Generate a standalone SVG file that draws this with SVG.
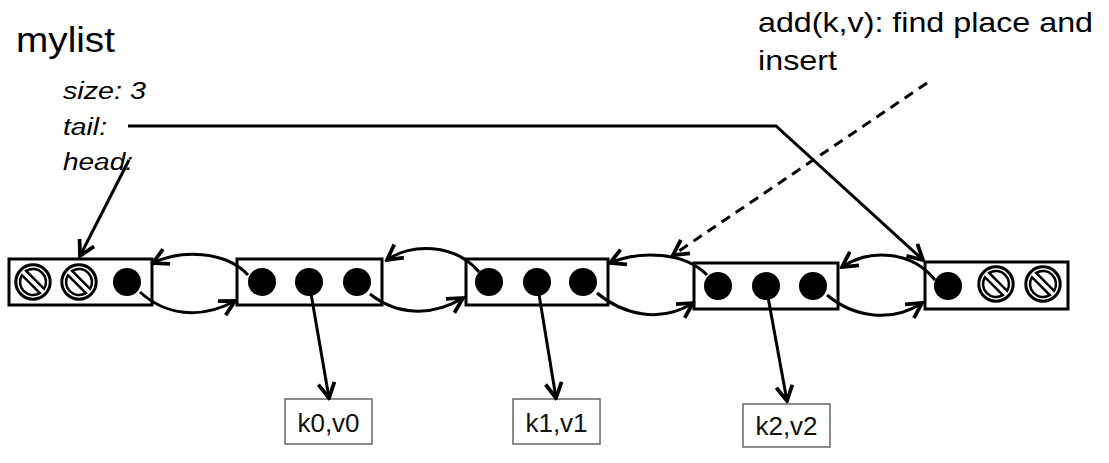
<svg xmlns="http://www.w3.org/2000/svg" width="1109" height="463" viewBox="0 0 1109 463">
<style>
.box{fill:#fff;stroke:#000;stroke-width:3}
.dot{fill:#000}
.val{fill:#fff;stroke:#666;stroke-width:1.5}
.valt{font-family:"Liberation Sans",Arial,sans-serif;font-size:26px;fill:#111;text-anchor:middle}
.lbl{font-family:"Liberation Sans",Arial,sans-serif;fill:#000}
.it{font-style:italic;font-size:23px}
.c{fill:none;stroke:#000;stroke-width:3}
.nil-o{fill:#fff;stroke:#000;stroke-width:3}
.nil-i{fill:#fff;stroke:#000;stroke-width:2.5}
</style>
<defs>
<marker id="ah" markerUnits="userSpaceOnUse" markerWidth="20" markerHeight="20" viewBox="-14 -8 16 16" refX="0" refY="0" orient="auto">
<path d="M-12,-6.5 L0,0 L-12,6.5" fill="none" stroke="#000" stroke-width="3"/>
</marker>
<g id="nil">
<circle class="nil-o" r="17.2"/>
<g transform="rotate(45)">
<path class="nil-i" d="M-12.65,-3 A13 13 0 0 1 12.65,-3 Z"/>
<path class="nil-i" d="M12.65,3 A13 13 0 0 1 -12.65,3 Z"/>
</g>
</g>
</defs>
<rect width="1109" height="463" fill="#fff"/>

<g id="labels" class="lbl">
<text x="16" y="52" font-size="35" textLength="99" lengthAdjust="spacingAndGlyphs">mylist</text>
<text class="it" x="63" y="99" textLength="83" lengthAdjust="spacingAndGlyphs">size: 3</text>
<text class="it" x="63" y="135" textLength="44" lengthAdjust="spacingAndGlyphs">tail:</text>
<text class="it" x="63" y="170" textLength="70" lengthAdjust="spacingAndGlyphs">head:</text>
<text x="758" y="32" font-size="28" textLength="335" lengthAdjust="spacingAndGlyphs">add(k,v): find place and</text>
<text x="758" y="70" font-size="28" textLength="79" lengthAdjust="spacingAndGlyphs">insert</text>
</g>

<g id="node0">
<rect class="box" x="9" y="259" width="143" height="46"/>
<use href="#nil" x="33" y="282"/>
<use href="#nil" x="79" y="282"/>
<circle class="dot" cx="127" cy="282" r="14"/>
</g>
<g id="node1">
<rect class="box" x="237" y="259" width="145" height="46"/>
<circle class="dot" cx="262" cy="282" r="14"/>
<circle class="dot" cx="309" cy="282" r="14"/>
<circle class="dot" cx="357" cy="282" r="14"/>
</g>
<g id="node2">
<rect class="box" x="466" y="259" width="142" height="46"/>
<circle class="dot" cx="489" cy="282" r="14"/>
<circle class="dot" cx="537" cy="282" r="14"/>
<circle class="dot" cx="583" cy="282" r="14"/>
</g>
<g id="node3">
<rect class="box" x="694" y="263" width="144" height="46"/>
<circle class="dot" cx="718" cy="286" r="14"/>
<circle class="dot" cx="766" cy="286" r="14"/>
<circle class="dot" cx="813" cy="286" r="14"/>
</g>
<g id="node4">
<rect class="box" x="925" y="262" width="143" height="47"/>
<circle class="dot" cx="948" cy="286" r="14"/>
<use href="#nil" x="996" y="284"/>
<use href="#nil" x="1043" y="284"/>
</g>

<g id="val0">
<rect class="val" x="285" y="399" width="87" height="45"/>
<text class="valt" x="328.5" y="432">k0,v0</text>
</g>
<g id="val1">
<rect class="val" x="513" y="399" width="87" height="45"/>
<text class="valt" x="556.5" y="432">k1,v1</text>
</g>
<g id="val2">
<rect class="val" x="743" y="404" width="87" height="43"/>
<text class="valt" x="786.5" y="435">k2,v2</text>
</g>

<g id="connectors">
<path class="c" marker-end="url(#ah)" d="M248,275 C225,250 180,250 153,263"/>
<path class="c" marker-end="url(#ah)" d="M140,292 C165,315 200,320 235,301"/>
<path class="c" marker-end="url(#ah)" d="M479,272 C455,243 410,243 387,260"/>
<path class="c" marker-end="url(#ah)" d="M370,294 C395,314 430,318 463,298"/>
<path class="c" marker-end="url(#ah)" d="M707,275 C685,252 640,250 610,263"/>
<path class="c" marker-end="url(#ah)" d="M597,293 C622,314 660,324 693,303"/>
<path class="c" marker-end="url(#ah)" d="M935,280 C912,251 870,248 842,267"/>
<path class="c" marker-end="url(#ah)" d="M827,295 C852,316 890,324 922,303"/>
<path class="c" marker-end="url(#ah)" d="M309,282 L329,398"/>
<path class="c" marker-end="url(#ah)" d="M537,282 L556,398"/>
<path class="c" marker-end="url(#ah)" d="M766,286 L787,401"/>
<path class="c" stroke-width="2.6" marker-end="url(#ah)" d="M128,126 L776,126 L923,260"/>
<path class="c" stroke-width="2.6" marker-end="url(#ah)" d="M129,160 L80,256"/>
<path class="c" stroke-dasharray="10 7" marker-end="url(#ah)" d="M927,83 L673,255"/>
</g>
</svg>
